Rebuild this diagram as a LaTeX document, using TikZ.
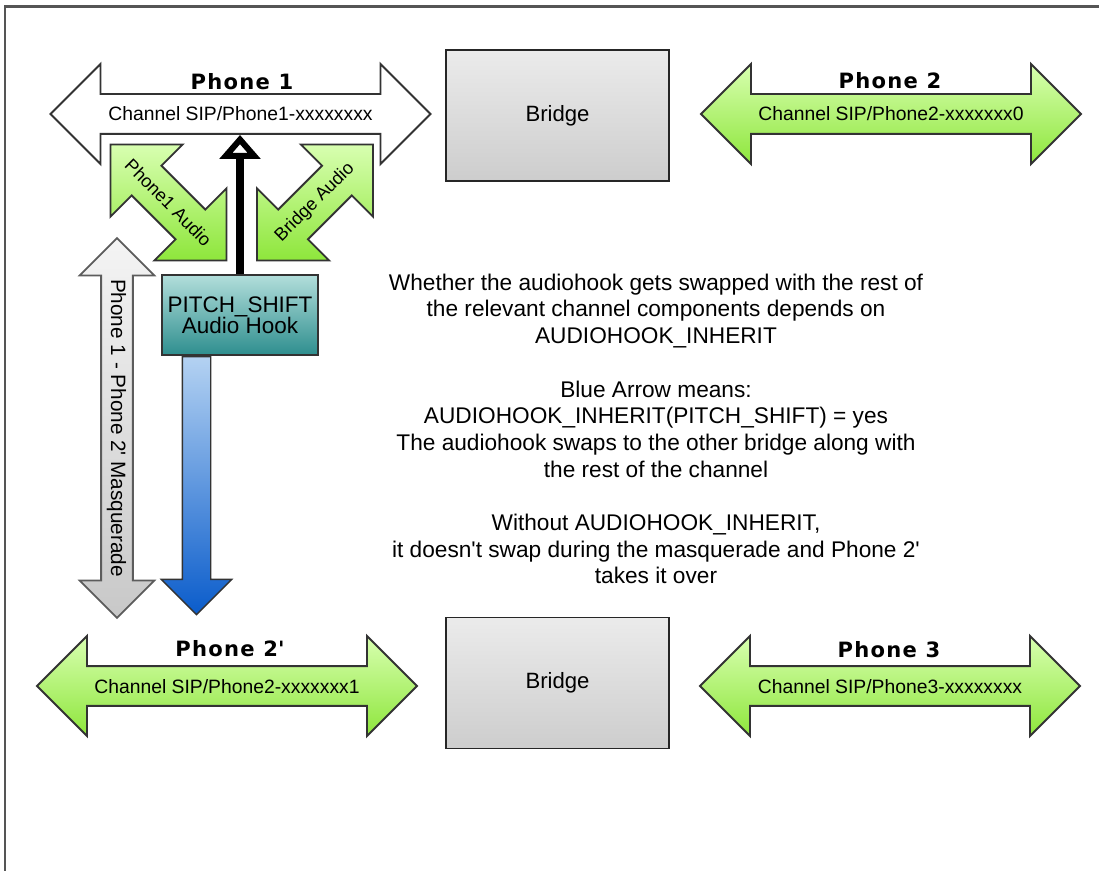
\documentclass[tikz,border=0pt]{standalone}
\usepackage{fontspec}
\setmainfont{Liberation Sans}
\newfontfamily\titlefont[LetterSpace=6]{DejaVu Sans}
\usepackage{tikz}
\usetikzlibrary{shapes.arrows, arrows.meta, positioning, calc}

\definecolor{framegray}{HTML}{555555}
\definecolor{edgegray}{HTML}{333333}
\definecolor{greentop}{HTML}{D8FFB0}
\definecolor{greenbot}{HTML}{8EE63C}
\definecolor{bridgetop}{HTML}{EBEBEB}
\definecolor{bridgebot}{HTML}{CDCDCD}
\definecolor{hooktop}{HTML}{B2DEDB}
\definecolor{hookbot}{HTML}{2E8E8E}
\definecolor{bluetop}{HTML}{B4D2F2}
\definecolor{bluebot}{HTML}{0A5CCB}
\definecolor{greytop}{HTML}{F4F4F4}
\definecolor{greybot}{HTML}{C8C8C8}

\tikzset{
  chan/.style={double arrow, draw=edgegray, line width=1.1pt, minimum height=7.6cm,
    double arrow head extend=0.6cm, inner sep=0pt, text height=0.52cm, text depth=0.24cm,
    font=\fontsize{11}{13}\selectfont},
  greenchan/.style={chan, top color=greentop, bottom color=greenbot},
  chantitle/.style={font=\titlefont\bfseries\fontsize{12}{14}\selectfont},
  bridgebox/.style={rectangle, draw=black!85, line width=1.1pt, minimum width=4.46cm,
    minimum height=2.62cm, top color=bridgetop, bottom color=bridgebot,
    font=\fontsize{12.6}{14}\selectfont},
  audio/.style={double arrow, draw=edgegray, line width=1.1pt, minimum height=3.28cm,
    double arrow head extend=0.6cm, inner sep=0pt, text height=0.8cm, text depth=0cm,
    top color=greentop, bottom color=greenbot},
  audiotext/.style={font=\fontsize{10.3}{11}\selectfont, inner sep=0pt},
  hookbox/.style={rectangle, draw=edgegray, line width=1.1pt, minimum width=3.08cm,
    minimum height=1.6cm, top color=hooktop, bottom color=hookbot, align=center,
    font=\fontsize{12.8}{12}\selectfont},
  hookline/.style={line width=0.16cm, -{Triangle[fill=white, length=0.48cm, width=0.8cm, line width=3.5pt]}},
  inherit/.style={single arrow, draw=edgegray, line width=0.8pt, minimum height=5.16cm,
    single arrow head extend=0.42cm, inner sep=0pt, text height=0.54cm, text depth=0cm,
    top color=bluetop, bottom color=bluebot},
  masq/.style={double arrow, draw=edgegray!80, line width=1pt, minimum height=7.6cm,
    double arrow head extend=0.43cm, inner sep=0pt, text height=0.42cm, text depth=0.18cm,
    top color=greytop, bottom color=greybot, font=\fontsize{11.8}{13}\selectfont},
  note/.style={align=center, inner sep=0pt, font=\fontsize{12.9}{15.2}\selectfont}
}

\begin{document}
\begin{tikzpicture}[x=0.02cm,y=-0.02cm]
\fill[white] (0,0) rectangle (1099,871);
\useasboundingbox (0,0) rectangle (1099,871);
\draw[framegray, line width=0.06cm] (5,871) -- (5,7) -- (1099,7);

\node[chan, fill=white] (phone1) at (240.5,114) {Channel SIP/Phone1-xxxxxxxx};
\node[greenchan] (phone2) at (891,114) {Channel SIP/Phone2-xxxxxxx0};
\node[greenchan] (phone2p) at (227,686) {Channel SIP/Phone2-xxxxxxx1};
\node[greenchan] (phone3) at (890,686) {Channel SIP/Phone3-xxxxxxxx};
\node[chantitle] (title1) at (242,81.5) {Phone 1};
\node[chantitle] (title2) at (890,81) {Phone 2};
\node[chantitle] (title2p) at (230,648.5) {Phone 2\textquotesingle};
\node[chantitle] (title3) at (889,649.5) {Phone 3};

\node[bridgebox] (bridge1) at (557.5,115.5) {Bridge};
\node[bridgebox] (bridge2) at (557.5,683) {Bridge};

\node[audio, rotate=-45] (p1audio) at (168.5,202.5) {};
\node[audio, rotate=45] (braudio) at (315,202.5) {};
\node[audiotext, rotate=-45] (p1audiolbl) at (p1audio.center) {Phone1 Audio};
\node[audiotext, rotate=45] (braudiolbl) at (braudio.center) {Bridge Audio};

\node[masq, rotate=-90] (masquerade) at (117,428) {Phone 1 - Phone 2\textquotesingle{} Masquerade};

\node[hookbox] (hook) at (240,315) {PITCH\_SHIFT\\Audio Hook};
\node[inherit, rotate=-90, anchor=tail] (swap) at ([xshift=-0.87cm]hook.south) {};
\draw[hookline] (hook.north) -- (hook.north |- phone1.south);

\node[note] (explain) at (656,429) {Whether the audiohook gets swapped with the rest of\\
the relevant channel components depends on\\
AUDIOHOOK\_INHERIT\\[15.2pt]
Blue Arrow means:\\
AUDIOHOOK\_INHERIT(PITCH\_SHIFT) = yes\\
The audiohook swaps to the other bridge along with\\
the rest of the channel\\[15.2pt]
Without AUDIOHOOK\_INHERIT,\\
it doesn\textquotesingle t swap during the masquerade and Phone 2\textquotesingle\\
takes it over};
\end{tikzpicture}
\end{document}
